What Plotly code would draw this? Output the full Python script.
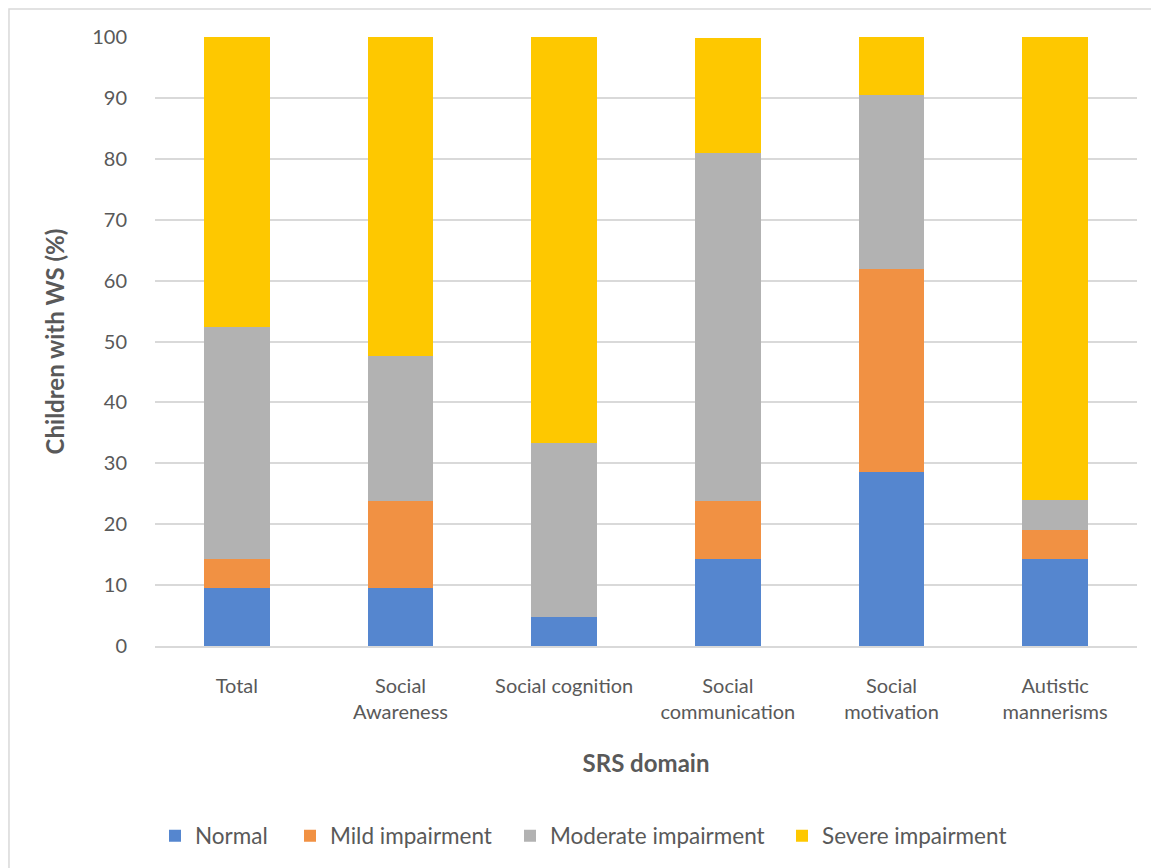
import plotly.graph_objects as go

categories = ["Total", "Social<br>Awareness", "Social cognition", "Social<br>communication",
              "Social<br>motivation", "Autistic<br>mannerisms"]
normal = [9.5, 9.5, 4.8, 14.3, 28.6, 14.3]
mild = [4.8, 14.3, 0.0, 9.5, 33.3, 4.8]
moderate = [38.1, 23.8, 28.6, 57.1, 28.6, 4.8]
severe = [47.6, 52.4, 66.7, 19.0, 9.5, 76.2]
series_names = ["Normal", "Mild impairment", "Moderate impairment", "Severe impairment"]
colors = ["#5586CF", "#F19143", "#B2B2B2", "#FEC800"]

W, H = 1159, 868
# legend item left positions (pixels, figure coordinates)
legend_px = [147, 282, 502, 774]
legend_names = ["legend", "legend2", "legend3", "legend4"]

fig = go.Figure()
for name, vals, col, lg in zip(series_names, [normal, mild, moderate, severe], colors, legend_names):
    fig.add_trace(go.Bar(x=categories, y=vals, name=name, marker_color=col,
                         marker_line_width=0, legend=lg, showlegend=True))

font_family = "Lato, Open Sans, sans-serif"
gray = "#595959"
legend_cfg = {}
for lg, px in zip(legend_names, legend_px):
    legend_cfg[lg] = dict(orientation="h", xref="container", yref="container",
                          x=px / W, xanchor="left", y=1 - 828 / H, yanchor="middle",
                          font=dict(size=22.5, color=gray, family=font_family),
                          itemwidth=30, bgcolor="rgba(0,0,0,0)", visible=True)

fig.update_layout(
    barmode="stack",
    bargap=0.6,
    width=W, height=H,
    showlegend=True,
    margin=dict(l=147, r=30, t=29, b=230),
    paper_bgcolor="white", plot_bgcolor="white",
    font=dict(family=font_family, size=20, color=gray),
    xaxis=dict(title=dict(text="<b>SRS domain</b>", font=dict(size=24, color=gray), standoff=33),
               showline=True, linecolor="#D9D9D9", linewidth=2, ticks="",
               ticklabelstandoff=21,
               tickfont=dict(size=20, color=gray)),
    yaxis=dict(title=dict(text="<b>Children with WS (%)</b>", font=dict(size=24, color=gray), standoff=20),
               range=[0, 100], dtick=10, showgrid=True, gridcolor="#D9D9D9", gridwidth=1.5,
               zeroline=False, ticks="", ticklabelstandoff=27,
               tickfont=dict(size=20, color=gray)),
    shapes=[dict(type="rect", xref="paper", yref="paper",
                 x0=-0.1487, x1=1.1, y0=-0.6, y1=1.046,
                 line=dict(color="#D9D9D9", width=1.5), fillcolor="rgba(0,0,0,0)", layer="below")],
    **legend_cfg,
)
fig.write_html("out.html")
